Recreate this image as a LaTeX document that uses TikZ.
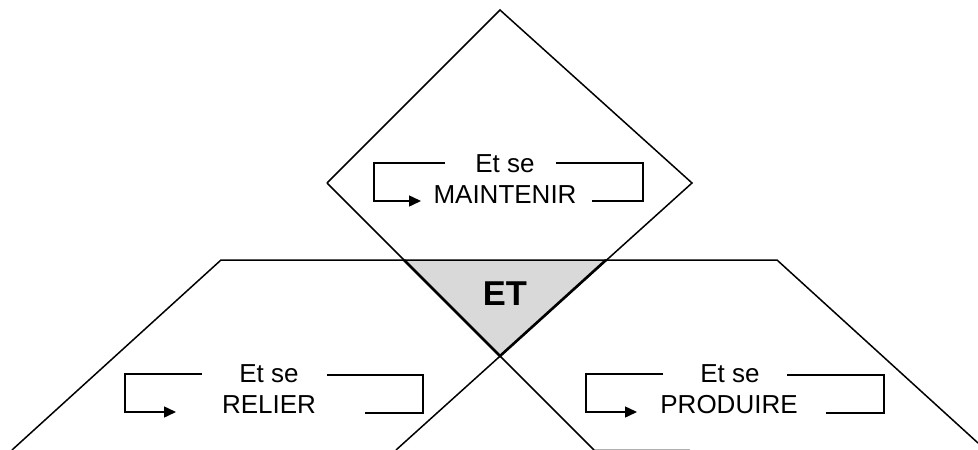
\documentclass[tikz,border=0pt]{standalone}
\usepackage{fontspec}
\setmainfont{Liberation Sans}
\usetikzlibrary{arrows.meta}
\definecolor{etgray}{HTML}{D9D9D9}
\definecolor{edgegray}{HTML}{B0B0B0}
\tikzset{
  edge/.style={line width=1.5pt, line join=miter},
  thickedge/.style={line width=2.6pt, line join=miter},
  loopline/.style={line width=1.5pt},
  looparrow/.style={line width=1.5pt, -{Triangle[length=12pt,width=11pt]}},
  lbl/.style={font=\fontsize{26}{30}\selectfont, inner sep=0pt, anchor=base},
  etlbl/.style={font=\bfseries\fontsize{34.5}{40}\selectfont, inner sep=0pt, anchor=base},
}
\begin{document}
\begin{tikzpicture}[x=1pt,y=-1pt]
\useasboundingbox (0,0) rectangle (978,450);
% diamond
\coordinate (T) at (500,10);
\coordinate (R) at (692,183);
\coordinate (B) at (500,356);
\coordinate (L) at (327,183);
\coordinate (E1) at (594,450);
\coordinate (E2) at (396,450);
% lower shapes
\coordinate (LS1) at (12,450);
\coordinate (LS2) at (221,260);
\coordinate (RS2) at (777,260);
\coordinate (RS3) at (978,443);
% triangle
\coordinate (TA) at (404,260);
\coordinate (TC) at (606,260);
\fill[etgray] (TA) -- (TC) -- (B) -- cycle;
\draw[edgegray, line width=1pt] (594,449.5) -- (690,449.5);
\draw[edge] (LS1) -- (LS2) -- (RS2) -- (RS3);
\draw[edge] (L) -- (T) -- (R) -- (E2);
\draw[edge] (L) -- (E1);
\draw[thickedge] (TA) -- (B) -- (TC);
\node[etlbl] (et) at (505,305) {ET};
% MAINTENIR
\node[lbl] (m1) at (505,172.7) {Et se};
\node[lbl] (m2) at (505,203.3) {MAINTENIR};
\draw[looparrow] (445,163) -- (374,163) -- (374,201) -- (421,201);
\draw[loopline] (556,163) -- (643,163) -- (643,201) -- (592,201);
% RELIER
\node[lbl] (r1) at (269,382.7) {Et se};
\node[lbl] (r2) at (269,413.3) {RELIER};
\draw[looparrow] (202,374) -- (125,374) -- (125,412) -- (176,412);
\draw[loopline] (327,375) -- (423,375) -- (423,413) -- (365,413);
% PRODUIRE
\node[lbl] (p1) at (730,382.7) {Et se};
\node[lbl] (p2) at (729,413.3) {PRODUIRE};
\draw[looparrow] (663,374) -- (586,374) -- (586,412) -- (637,412);
\draw[loopline] (787,375) -- (884,375) -- (884,413) -- (826,413);
\end{tikzpicture}
\end{document}
